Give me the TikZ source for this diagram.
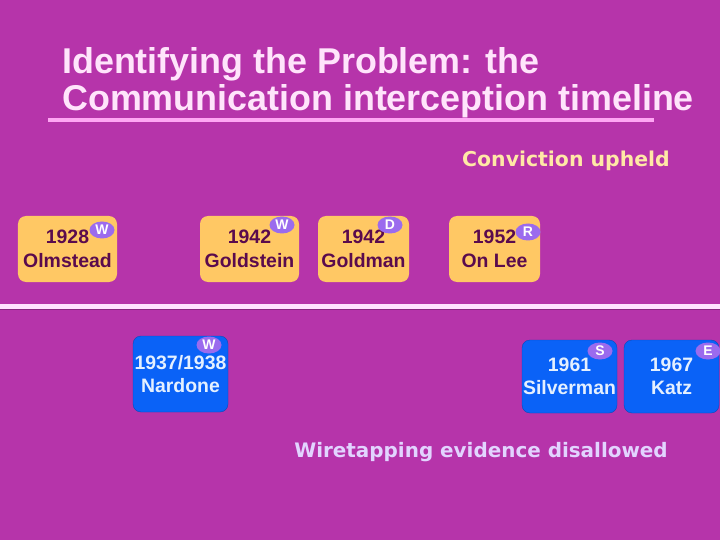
\documentclass[tikz,border=0pt]{standalone}
\usepackage{fontspec}
\setmainfont{Liberation Sans}
\newfontfamily\widefont{DejaVu Sans}
\usepackage{tikz}
\usetikzlibrary{shapes.geometric}
\definecolor{slidebg}{HTML}{B634AA}
\definecolor{titlepink}{HTML}{FFE4FB}
\definecolor{rulepink}{HTML}{FFA6F4}
\definecolor{linewhite}{HTML}{FFE2FF}
\definecolor{caseorange}{HTML}{FFC864}
\definecolor{caseplum}{HTML}{5A0B4D}
\definecolor{caseblue}{HTML}{0A62F7}
\definecolor{caseice}{HTML}{E4F0FF}
\definecolor{badgelav}{HTML}{9B6BEE}
\definecolor{upheldyellow}{HTML}{FFE8A6}
\definecolor{disallowlav}{HTML}{E2D4FF}

\begin{document}
\begin{tikzpicture}[x=1bp,y=-1bp,
  upheld/.style={rounded corners=8bp,fill=caseorange,text=caseplum,align=center,inner sep=0pt,
    font=\fontsize{19.5}{24}\selectfont\bfseries},
  disallowed/.style={rounded corners=8bp,fill=caseblue,draw=caseblue!75!black,text=caseice,align=center,inner sep=0pt,
    font=\fontsize{19.5}{23}\selectfont\bfseries},
  badge/.style={ellipse,fill=badgelav,text=white,inner sep=0pt,minimum width=25bp,minimum height=17bp,
    font=\fontsize{14}{14}\selectfont\bfseries}]
  \useasboundingbox (0,0) rectangle (720,540);
  \fill[slidebg] (0,0) rectangle (720,540);
  \node[anchor=base west,inner sep=0pt,text=titlepink,font=\fontsize{36}{36}\selectfont\bfseries] (titleA) at (62,74) {Identifying the Problem: the};
  \node[anchor=base west,inner sep=0pt,text=titlepink,font=\fontsize{36}{36}\selectfont\bfseries] (titleB) at (62,111) {Communication interception timeline};
  \draw[rulepink,line width=4bp] (48,120) -- (654,120);
  \fill[black!25!slidebg] (0,308) rectangle (720,310);
  \fill[linewhite] (0,304) rectangle (720,309);
  \node[anchor=base,text=upheldyellow,font=\widefont\fontsize{20.5}{20}\selectfont\bfseries] (upheldlabel) at (566,167) {Conviction upheld};
  \node[upheld,minimum width=99bp,minimum height=66bp] (olmstead) at (67.5,249) {1928\\Olmstead};
  \node[upheld,minimum width=99bp,minimum height=66bp] (goldstein) at (249.5,249) {1942\\Goldstein};
  \node[upheld,minimum width=91bp,minimum height=66bp] (goldman) at (363.5,249) {1942\\Goldman};
  \node[upheld,minimum width=91bp,minimum height=66bp] (onlee) at (494.5,249) {1952\\On Lee};
  \node[disallowed,minimum width=95bp,minimum height=76bp] (nardone) at (180.5,374) {1937/1938\\Nardone};
  \node[disallowed,minimum width=95bp,minimum height=73bp] (silverman) at (569.5,376.5) {1961\\Silverman};
  \node[disallowed,minimum width=95bp,minimum height=73bp] (katz) at (671.5,376.5) {1967\\Katz};
  \node[badge] (olmsteadW) at (102,230) {W};
  \node[badge] (goldsteinW) at (282,225) {W};
  \node[badge] (goldmanD) at (390,225) {D};
  \node[badge] (onleeR) at (528,232) {R};
  \node[badge] (nardoneW) at (209,345) {W};
  \node[badge] (silvermanS) at (600,351) {S};
  \node[badge] (katzE) at (708,351) {E};
  \node[anchor=base,text=disallowlav,font=\widefont\fontsize{20}{20}\selectfont\bfseries] (disallowlabel) at (481,457) {Wiretapping evidence disallowed};
\end{tikzpicture}
\end{document}
